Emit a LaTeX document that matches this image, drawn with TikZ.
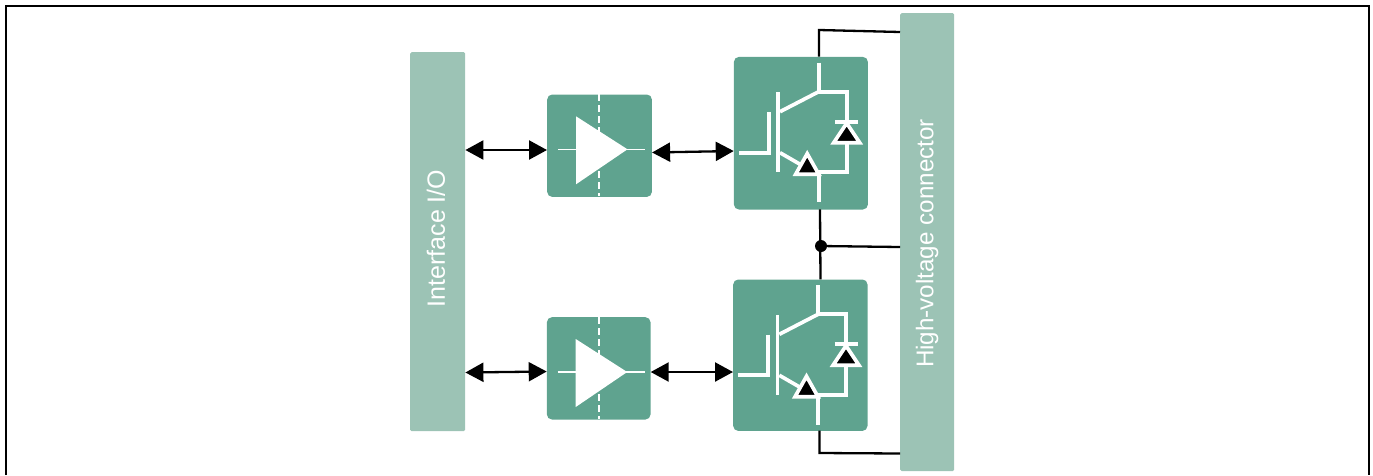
\documentclass[tikz,border=0pt]{standalone}
\usepackage{fontspec}
\setmainfont{Liberation Sans}
\usetikzlibrary{arrows.meta}
\definecolor{blockgreen}{HTML}{5FA38F}
\definecolor{barpale}{HTML}{9CC3B5}
\tikzset{
  x=1pt,y=-1pt,
  block/.style={fill=blockgreen,draw=none,rounded corners=5pt,inner sep=0pt,anchor=north west},
  bar/.style={fill=barpale,draw=none,rounded corners=1.5pt,inner sep=0pt,anchor=north west},
  barlabel/.style={text=white,rotate=90,inner sep=0pt},
  wire/.style={draw=black,line width=2.3pt},
  link/.style={draw=black,line width=2.3pt,{Triangle[length=18pt,width=19pt]}-{Triangle[length=18pt,width=19pt]}},
  sym/.style={draw=white,line width=3.7pt},
  thin sym/.style={draw=white,line width=1.5pt},
  amp/.pic={
    \draw[draw=white,line width=2pt,dash pattern=on 7pt off 4pt] (52,0)--(52,102);
    \draw[thin sym] (11,55)--(98,55);
    \fill[white] (29,22)--(29,90)--(80.5,55)--cycle;
  },
  igbt/.pic={
    \draw[sym] (85,6)--(85,35)--(113,35)--(113,115.6)--(85,115.6)--(85,145.6);
    \draw[sym] (44.6,35.6)--(44.6,115.6);
    \draw[sym] (35,55.3)--(35,96)--(5.3,96);
    \draw[sym] (46.3,55)--(85,35);
    \draw[sym] (46.3,96)--(74,112);
    \draw[sym,fill=black,line join=miter] (62,117.5)--(73.5,97)--(85,117.5)--cycle;
    \draw[sym] (101.5,65)--(124.5,65);
    \draw[sym,fill=black,line join=miter] (113,66.5)--(100,86)--(126,86)--cycle;
  },
}
\begin{document}
\begin{tikzpicture}
\useasboundingbox (0,0) rectangle (1373,475);
% frame, open at the bottom
\draw[black,line width=2.4pt] (6,475)--(6,6)--(1369,6)--(1369,475);

\node[bar,minimum width=55pt,minimum height=379pt] (iface) at (410,52) {};
\node[bar,minimum width=54pt,minimum height=458pt] (hv) at (900,13) {};
\node[barlabel,font=\fontsize{25}{30}\selectfont] at (436,238.5) {Interface I/O};
\node[barlabel,font=\fontsize{24.2}{29}\selectfont] at (927,243.5) {High-voltage connector};

\node[block,minimum width=104.7pt,minimum height=102.4pt] (amp1) at (547,94.3) {};
\node[block,minimum width=103.6pt,minimum height=102.3pt] (amp2) at (546.7,317) {};
\node[block,minimum width=134pt,minimum height=152.6pt] (sw1) at (733.7,56.7) {};
\node[block,minimum width=134.3pt,minimum height=151.4pt] (sw2) at (733,279.3) {};

\pic at (amp1.north west) {amp};
\pic at (amp2.north west) {amp};
\pic at (sw1.north west) {igbt};
\pic at (sw2.north west) {igbt};

% connector end points
\coordinate (i1) at (iface.east |- 0,150);
\coordinate (a1w) at (amp1.west |- 0,150);
\coordinate (a1e) at (amp1.east |- 0,152.5);
\coordinate (s1w) at (sw1.west |- 0,151);
\coordinate (i2) at (iface.east |- 0,372.5);
\coordinate (a2w) at (amp2.west |- 0,371.5);
\coordinate (a2e) at (amp2.east |- 0,372);
\coordinate (s2w) at (sw2.west |- 0,372);

\draw[link] (i1)--(a1w);
\draw[link] (a1e)--(s1w);
\draw[link] (i2)--(a2w);
\draw[link] (a2e)--(s2w);

\coordinate (t1) at (819,56.7);
\coordinate (t2) at (819,30);
\coordinate (h1) at (hv.west |- 0,32);
\draw[wire] (t1)--(t2)--(h1);

\coordinate (m1) at (820,209.3);
\coordinate (m2) at (820.5,279.3);
\coordinate (h2) at (hv.west |- 0,247);
\coordinate (j) at (821,246);
\draw[wire] (m1)--(m2);
\draw[wire] (j)--(h2);
\fill[black] (j) circle (6pt);

\coordinate (b1) at (819.5,430.7);
\coordinate (b2) at (819.5,453);
\coordinate (h3) at (hv.west |- 0,453.5);
\draw[wire] (b1)--(b2)--(h3);
\end{tikzpicture}
\end{document}
